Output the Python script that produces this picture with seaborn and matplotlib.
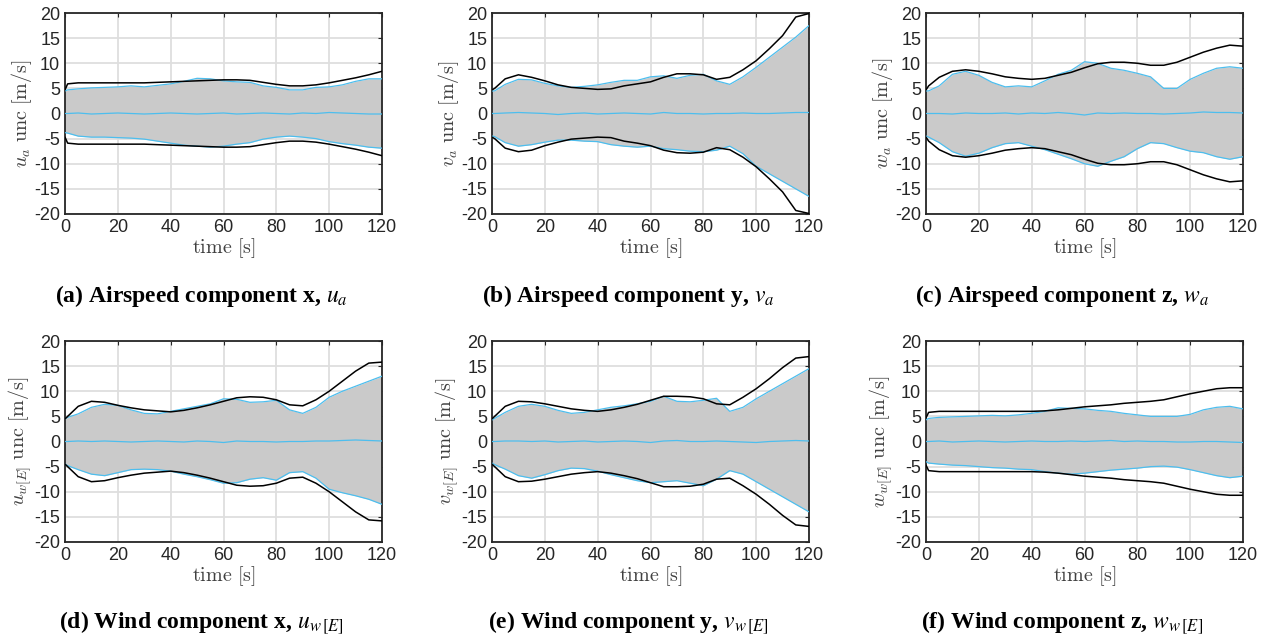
import numpy as np
import pandas as pd
import matplotlib
matplotlib.use("Agg")
import matplotlib.pyplot as plt
import seaborn as sns

# ---------------- data ----------------
t = [0, 1, 5, 10, 15, 20, 25, 30, 35, 40, 45, 50, 55, 60, 65, 70, 75, 80, 85, 90, 95, 100, 105, 110, 115, 120]

# black envelopes (upper / lower)
a_ku = [4.7, 5.9, 6.1, 6.1, 6.1, 6.1, 6.1, 6.1, 6.2, 6.3, 6.4, 6.5, 6.6, 6.7, 6.7, 6.6, 6.2, 5.8, 5.5, 5.5, 5.7, 6.1, 6.6, 7.1, 7.7, 8.4]
a_kl = [-4.7, -5.9, -6.1, -6.1, -6.1, -6.1, -6.1, -6.1, -6.2, -6.3, -6.4, -6.5, -6.6, -6.7, -6.7, -6.6, -6.2, -5.8, -5.5, -5.5, -5.7, -6.1, -6.6, -7.1, -7.7, -8.4]
b_ku = [4.7, 5.0, 6.9, 7.7, 7.2, 6.5, 5.7, 5.2, 5.0, 4.8, 4.9, 5.5, 5.9, 6.3, 7.2, 7.9, 7.9, 7.7, 6.8, 7.2, 8.7, 10.5, 12.9, 15.5, 19.2, 19.9]
b_kl = [-4.7, -5.0, -6.9, -7.6, -7.3, -6.4, -5.7, -5.1, -4.9, -4.7, -4.8, -5.5, -5.9, -6.4, -7.3, -7.8, -7.9, -7.7, -6.8, -7.2, -8.7, -10.6, -13.0, -15.6, -19.3, -19.9]
c_ku = [4.7, 5.5, 7.2, 8.4, 8.7, 8.4, 7.9, 7.3, 7.0, 6.8, 7.0, 7.6, 8.2, 9.1, 9.9, 10.2, 10.2, 10.0, 9.6, 9.6, 10.2, 11.2, 12.2, 13.0, 13.6, 13.4]
c_kl = [-4.7, -5.5, -7.2, -8.4, -8.7, -8.4, -7.9, -7.3, -7.0, -6.8, -7.0, -7.6, -8.2, -9.1, -9.9, -10.2, -10.2, -10.0, -9.6, -9.6, -10.2, -11.2, -12.2, -13.0, -13.6, -13.4]
d_ku = [4.5, 5.0, 7.0, 8.0, 7.8, 7.2, 6.7, 6.3, 6.1, 5.9, 6.2, 6.7, 7.3, 8.0, 8.7, 8.9, 8.8, 8.3, 7.3, 7.1, 8.3, 10.0, 12.0, 14.0, 15.6, 15.8]
d_kl = [-4.5, -5.0, -7.0, -8.0, -7.8, -7.2, -6.7, -6.3, -6.1, -5.9, -6.2, -6.7, -7.3, -8.0, -8.7, -8.9, -8.8, -8.3, -7.3, -7.1, -8.3, -10.0, -12.0, -14.0, -15.6, -15.8]
e_ku = [4.5, 5.0, 7.0, 8.0, 7.9, 7.5, 7.0, 6.5, 6.2, 6.0, 6.3, 6.8, 7.4, 8.2, 9.0, 9.0, 8.9, 8.5, 7.5, 7.3, 8.8, 10.5, 12.5, 14.7, 16.6, 16.9]
e_kl = [-4.5, -5.0, -7.0, -8.0, -7.9, -7.5, -7.0, -6.5, -6.2, -6.0, -6.3, -6.8, -7.4, -8.2, -9.0, -9.0, -8.9, -8.5, -7.5, -7.3, -8.8, -10.5, -12.5, -14.7, -16.6, -16.9]
f_ku = [4.7, 5.8, 6.0, 6.0, 6.0, 6.0, 6.0, 6.0, 6.0, 6.0, 6.1, 6.3, 6.6, 6.9, 7.1, 7.3, 7.6, 7.8, 8.0, 8.3, 8.9, 9.5, 10.0, 10.5, 10.7, 10.7]
f_kl = [-4.7, -5.8, -6.0, -6.0, -6.0, -6.0, -6.0, -6.0, -6.0, -6.0, -6.1, -6.3, -6.6, -6.9, -7.1, -7.3, -7.6, -7.8, -8.0, -8.3, -8.9, -9.5, -10.0, -10.5, -10.7, -10.7]

# blue sample bounds (upper / lower)
a_bu = [4.5, 4.7, 4.9, 5.1, 5.2, 5.3, 5.5, 5.3, 5.6, 5.9, 6.4, 7.0, 6.9, 6.5, 6.3, 6.2, 5.5, 5.2, 4.7, 4.7, 5.2, 5.3, 5.7, 6.4, 6.9, 6.9]
a_bl = [-3.8, -3.9, -4.5, -4.7, -4.7, -4.8, -4.9, -5.1, -5.5, -5.9, -6.3, -6.5, -6.7, -6.5, -6.1, -5.8, -5.1, -4.7, -4.5, -4.7, -5.0, -5.6, -6.0, -6.3, -6.7, -6.9]
b_bu = [4.5, 4.5, 5.8, 6.8, 6.7, 6.0, 5.5, 5.2, 5.4, 5.7, 6.2, 6.6, 6.6, 7.3, 7.5, 7.0, 7.6, 7.8, 6.5, 5.8, 7.3, 9.2, 11.2, 13.2, 15.2, 17.5]
b_bl = [-4.5, -4.6, -5.8, -6.5, -6.2, -5.7, -5.3, -5.3, -5.5, -5.6, -6.2, -6.5, -6.7, -6.5, -7.0, -7.2, -7.5, -7.6, -7.3, -6.5, -8.0, -10.5, -12.0, -13.5, -15.0, -16.5]
c_bu = [4.5, 4.5, 5.5, 7.8, 8.4, 7.6, 6.2, 5.3, 5.5, 5.3, 6.5, 7.8, 8.6, 10.3, 10.0, 9.0, 8.6, 8.0, 7.3, 5.0, 5.0, 6.8, 8.0, 9.0, 9.3, 9.0]
c_bl = [-4.5, -4.7, -5.8, -7.6, -8.5, -7.9, -6.8, -6.0, -5.8, -6.5, -7.2, -8.1, -9.0, -10.0, -10.5, -9.5, -8.6, -7.0, -5.8, -6.0, -6.8, -7.5, -7.8, -8.6, -9.1, -8.6]
d_bu = [4.5, 4.8, 5.5, 6.8, 7.4, 7.2, 6.3, 5.6, 5.5, 6.0, 6.5, 7.0, 7.5, 8.5, 8.4, 7.8, 7.9, 8.2, 6.3, 5.6, 6.8, 8.8, 10.0, 11.0, 12.0, 13.0]
d_bl = [-4.5, -4.8, -5.6, -6.5, -6.8, -6.2, -5.6, -5.5, -5.6, -5.9, -6.5, -7.0, -7.6, -8.3, -8.2, -7.5, -7.2, -7.7, -6.2, -6.0, -7.3, -9.5, -10.2, -10.8, -11.5, -12.5]
e_bu = [4.3, 4.6, 5.8, 7.0, 7.4, 7.0, 6.2, 5.6, 5.8, 6.3, 6.8, 7.1, 7.5, 8.0, 9.0, 8.0, 7.9, 8.2, 8.6, 6.0, 6.8, 8.5, 10.0, 11.5, 13.0, 14.5]
e_bl = [-4.3, -4.6, -5.5, -6.8, -7.3, -6.6, -5.8, -5.3, -5.4, -5.9, -6.6, -7.2, -7.8, -8.2, -8.0, -7.8, -8.3, -8.8, -7.5, -5.8, -6.5, -8.0, -9.5, -11.0, -12.5, -14.0]
f_bu = [4.3, 4.6, 4.8, 4.9, 5.0, 5.1, 5.2, 5.1, 5.3, 5.6, 6.0, 6.7, 6.6, 6.5, 6.2, 6.0, 5.6, 5.3, 5.0, 5.0, 5.0, 5.4, 6.3, 6.8, 7.0, 6.5]
f_bl = [-4.0, -4.3, -4.5, -4.7, -4.8, -5.0, -5.2, -5.3, -5.5, -5.6, -6.0, -6.3, -6.5, -6.3, -6.0, -5.7, -5.5, -5.3, -5.0, -4.9, -5.1, -5.6, -6.2, -6.8, -7.2, -6.9]

# blue mean
a_mean = [0, 0, 0.1, -0.1, 0, 0.1, 0, -0.1, 0, 0.1, 0, -0.1, 0, 0.1, -0.1, 0, 0.1, 0, -0.1, 0.1, 0, 0.2, 0.1, 0, -0.1, -0.1]
b_mean = [0, 0, 0.1, 0.2, 0.1, 0, -0.2, 0, 0.1, -0.1, 0, 0.1, 0, -0.1, 0.2, 0, 0, -0.1, 0, 0, 0.1, 0, 0, 0.1, 0.2, 0.2]
c_mean = [0, 0, 0, -0.1, 0.1, 0, 0, 0.1, -0.1, 0.1, 0, 0.2, 0, -0.3, 0.1, 0, 0.1, 0, 0, -0.1, 0, 0.1, 0.3, 0.2, 0.2, 0.1]
d_mean = [0, 0, 0.1, 0, 0.1, 0, -0.1, 0, 0.1, 0, -0.1, 0.1, 0, -0.2, 0.1, 0, 0, -0.1, 0, 0, 0.1, 0.1, 0.2, 0.3, 0.2, 0.1]
e_mean = [0, 0, 0.1, 0.1, 0, 0.1, -0.1, 0, 0.1, -0.1, 0, 0.1, 0, -0.2, 0.1, 0.2, 0, 0, 0.1, 0, -0.1, -0.2, 0, 0.1, 0.2, 0.1]
f_mean = [0, 0, 0.1, -0.1, 0, 0.1, 0, -0.1, 0, 0.1, 0, 0, 0.1, 0, 0.1, 0.2, 0, 0.1, 0, 0, -0.1, -0.1, 0, 0, -0.1, -0.2]

ylabels = [r"$u_a\ \mathrm{unc}\ [\mathrm{m/s}]$", r"$v_a\ \mathrm{unc}\ [\mathrm{m/s}]$", r"$w_a\ \mathrm{unc}\ [\mathrm{m/s}]$",
           r"$u_{w[E]}\ \mathrm{unc}\ [\mathrm{m/s}]$", r"$v_{w[E]}\ \mathrm{unc}\ [\mathrm{m/s}]$", r"$w_{w[E]}\ \mathrm{unc}\ [\mathrm{m/s}]$"]
captions = [r"(a) Airspeed component x, $u_a$", r"(b) Airspeed component y, $v_a$", r"(c) Airspeed component z, $w_a$",
            r"(d) Wind component x, $u_{w\,[E]}$", r"(e) Wind component y, $v_{w\,[E]}$", r"(f) Wind component z, $w_{w\,[E]}$"]
xticks = [0, 20, 40, 60, 80, 100, 120]
yticks = [-20, -15, -10, -5, 0, 5, 10, 15, 20]

# ---------------- styling ----------------
sns.set_theme(style="white")
plt.rcParams.update({
    "font.family": ["Liberation Sans", "DejaVu Sans"],
    "mathtext.fontset": "cm",
    "axes.edgecolor": "#262626",
    "xtick.color": "#262626",
    "ytick.color": "#262626",
})

W, H = 1278, 642
fig = plt.figure(figsize=(W / 100, H / 100), dpi=100)

lefts = [65, 492, 926]
tops = [13, 341]
aw, ah = 317, 201
cap_x = [201, 628, 1062]
cap_y = [302, 628]

panels = [
    (a_ku, a_kl, a_bu, a_bl, a_mean),
    (b_ku, b_kl, b_bu, b_bl, b_mean),
    (c_ku, c_kl, c_bu, c_bl, c_mean),
    (d_ku, d_kl, d_bu, d_bl, d_mean),
    (e_ku, e_kl, e_bu, e_bl, e_mean),
    (f_ku, f_kl, f_bu, f_bl, f_mean),
]

blue = "#4DBEEE"
for i, (ku, kl, bu, bl, mn) in enumerate(panels):
    r, c = divmod(i, 3)
    ax = fig.add_axes([lefts[c] / W, 1 - (tops[r] + ah) / H, aw / W, ah / H])
    df = pd.DataFrame({"t": t, "ku": ku, "kl": kl, "bu": bu, "bl": bl, "mean": mn})
    ax.fill_between(df["t"], df["bl"], df["bu"], color="#cacaca", lw=0, zorder=1)
    sns.lineplot(data=df, x="t", y="bu", color=blue, lw=0.9, ax=ax, estimator=None, zorder=3)
    sns.lineplot(data=df, x="t", y="bl", color=blue, lw=0.9, ax=ax, estimator=None, zorder=3)
    sns.lineplot(data=df, x="t", y="mean", color=blue, lw=0.9, ax=ax, estimator=None, zorder=3)
    sns.lineplot(data=df, x="t", y="ku", color="black", lw=1.1, ax=ax, estimator=None, zorder=4)
    sns.lineplot(data=df, x="t", y="kl", color="black", lw=1.1, ax=ax, estimator=None, zorder=4)

    ax.set_xlim(0, 120)
    ax.set_ylim(-20, 20)
    ax.set_xticks(xticks)
    ax.set_yticks(yticks)
    ax.set_xticklabels([str(v) for v in xticks], fontsize=13)
    ax.set_yticklabels([str(v) for v in yticks], fontsize=13)
    ax.grid(True, color="#dedede", lw=1.3, zorder=0)
    ax.set_axisbelow(True)
    ax.tick_params(direction="in", length=3, width=0.8, top=True, right=True, pad=3.5)
    for s in ax.spines.values():
        s.set_linewidth(1.3)
        s.set_color("#262626")
    ax.set_xlabel(r"$\mathrm{time}\ [\mathrm{s}]$", fontsize=14.5, color="#404040", labelpad=0)
    ax.set_ylabel(ylabels[i], fontsize=14.5, color="#404040", labelpad=0)

    fig.text(cap_x[c] / W, 1 - cap_y[r] / H, captions[i], fontfamily="Liberation Serif",
             fontweight="bold", fontsize=17, math_fontfamily="stix", ha="center", va="baseline",
             color="black")

fig.savefig("out.png", dpi=100)
